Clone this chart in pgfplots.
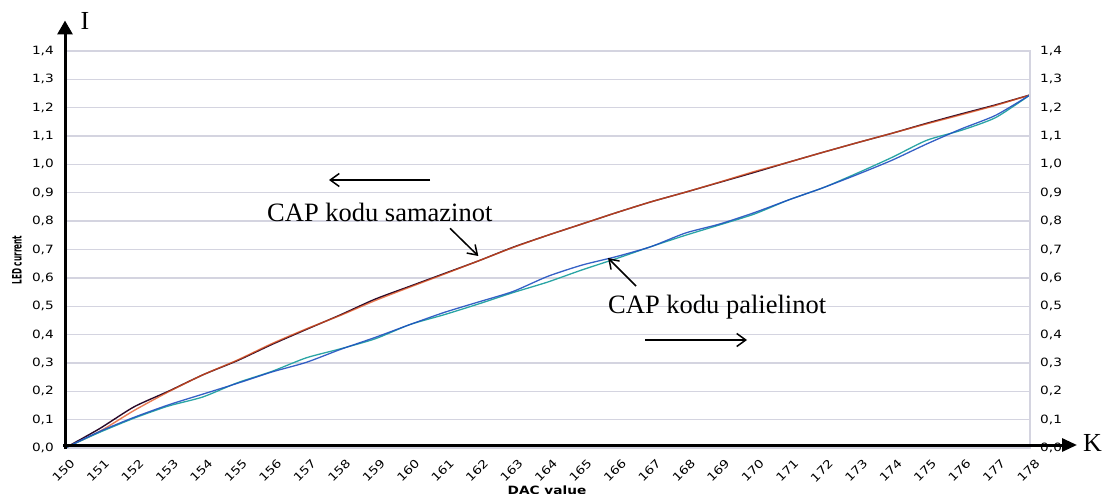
\documentclass[border=0pt]{standalone}
\usepackage{fontspec}
\usepackage{pgfplots}
\pgfplotsset{compat=1.18}
\usetikzlibrary{arrows.meta}
\setmainfont{Liberation Serif}
\newfontfamily\tickfont[FakeStretch=1.2]{DejaVu Sans}
\newfontfamily\tnr{Liberation Serif}
\definecolor{gridc}{HTML}{D4D4E0}
\definecolor{cBlack}{HTML}{2A0A2A}
\definecolor{cOrange}{HTML}{E0501C}
\definecolor{cBlue}{HTML}{2050C0}
\definecolor{cTeal}{HTML}{2AA5A5}
\pgfplotstableread{
x   blk    org    blu    tea
150 0      0      0      0
151 0.068  0.058  0.058  0.055
152 0.145  0.132  0.108  0.105
153 0.200  0.198  0.152  0.148
154 0.258  0.258  0.190  0.180
155 0.308  0.310  0.228  0.230
156 0.365  0.368  0.268  0.270
157 0.418  0.420  0.302  0.318
158 0.470  0.468  0.348  0.350
159 0.525  0.520  0.390  0.385
160 0.570  0.567  0.435  0.435
161 0.615  0.613  0.478  0.470
162 0.660  0.660  0.515  0.508
163 0.708  0.707  0.552  0.548
164 0.750  0.750  0.605  0.585
165 0.790  0.790  0.645  0.628
166 0.830  0.830  0.675  0.668
167 0.868  0.868  0.710  0.710
168 0.902  0.902  0.758  0.750
169 0.937  0.938  0.790  0.787
170 0.972  0.975  0.830  0.825
171 1.008  1.008  0.875  0.875
172 1.043  1.043  0.918  0.918
173 1.077  1.077  0.965  0.970
174 1.110  1.110  1.015  1.025
175 1.145  1.143  1.072  1.085
176 1.178  1.175  1.125  1.120
177 1.210  1.208  1.173  1.165
178 1.245  1.245  1.245  1.245
}\datatable
\begin{document}
\begin{tikzpicture}[x=1pt,y=1pt]
\begin{axis}[
  at={(65pt,45pt)}, anchor=south west,
  scale only axis, width=965pt, height=397pt,
  xmin=150, xmax=178, ymin=0, ymax=1.4,
  xtick={150,...,178}, ytick={0,0.1,...,1.4},
  major tick length=0pt,
  ymajorgrids, grid style={color=gridc, line width=1.3pt},
  axis line style={draw=gridc, line width=1.3pt},
  /pgf/number format/assume math mode=true,
  yticklabel style={/pgf/number format/use comma, /pgf/number format/fixed, /pgf/number format/fixed zerofill, /pgf/number format/precision=1},
  xticklabel style={/pgf/number format/set thousands separator={}},
  tick label style={font=\tickfont\fontsize{11.4}{12}\selectfont, color=black},
  xticklabel style={rotate=45, anchor=east, inner sep=0pt, yshift=-15pt, xshift=-4pt},
  yticklabel style={inner sep=0pt, xshift=-11pt},
  clip=false,
]
\addplot[cBlack, line width=1.4pt, smooth, tension=0.4] table[x=x,y=blk]{\datatable};
\addplot[cOrange, line width=1.4pt, smooth, tension=0.4, opacity=0.75] table[x=x,y=org]{\datatable};
\addplot[cTeal, line width=1.3pt, smooth, tension=0.4] table[x=x,y=tea]{\datatable};
\addplot[cBlue, line width=1.3pt, smooth, tension=0.4, opacity=0.9] table[x=x,y=blu]{\datatable};
\end{axis}
\begin{axis}[
  at={(65pt,45pt)}, anchor=south west,
  scale only axis, width=965pt, height=397pt,
  xmin=150, xmax=178, ymin=0, ymax=1.4,
  axis y line*=right, axis x line=none,
  ytick={0,0.1,...,1.4},
  major tick length=0pt,
  axis line style={draw=gridc, line width=1.3pt},
  /pgf/number format/assume math mode=true,
  yticklabel style={/pgf/number format/use comma, /pgf/number format/fixed, /pgf/number format/fixed zerofill, /pgf/number format/precision=1},
  tick label style={font=\tickfont\fontsize{11.4}{12}\selectfont, color=black},
  yticklabel style={inner sep=0pt, xshift=10pt},
]
\addplot[draw=none] coordinates {(150,0)};
\end{axis}
% black arrow axes
\draw[line width=3pt, -{Triangle[length=14pt,width=15pt]}] (65,44) -- (65,472.5);
\draw[line width=3pt, -{Triangle[length=15pt,width=13pt]}] (63,48) -- (1077,48);
\node[anchor=base west, inner sep=0pt, font=\tnr\fontsize{26}{30}\selectfont] at (80.5,463.7) {I};
\node[anchor=base west, inner sep=0pt, font=\tnr\fontsize{26}{30}\selectfont] at (1083,41.3) {K};
% axis titles
\node[rotate=90, inner sep=0pt, font=\tickfont\bfseries\fontsize{13}{14}\selectfont] at (17,233) {\scalebox{0.47}[1]{LED current}};
\node[anchor=north, inner sep=0pt, font=\tickfont\bfseries\fontsize{11.4}{12}\selectfont] at (547,7.5) {DAC value};
% annotations
\node[anchor=base west, inner sep=0pt, font=\tnr\fontsize{26.5}{30}\selectfont] at (267,271.3) {CAP kodu samazinot};
\node[anchor=base west, inner sep=0pt, font=\tnr\fontsize{26.5}{30}\selectfont] at (608,179) {CAP kodu palielinot};
\draw[line width=1.5pt, -{Straight Barb[length=9pt,width=13pt]}] (430,313) -- (329,313);
\draw[line width=1.5pt, -{Straight Barb[length=9pt,width=12pt]}] (450,264.7) -- (478.3,237);
\draw[line width=1.5pt, -{Straight Barb[length=9pt,width=12pt]}] (636,207) -- (608,235);
\draw[line width=1.5pt, -{Straight Barb[length=9pt,width=13pt]}] (645,153) -- (747,153);
\pgfresetboundingbox
\path[use as bounding box] (0,0) rectangle (1102,493);
\end{tikzpicture}
\end{document}
